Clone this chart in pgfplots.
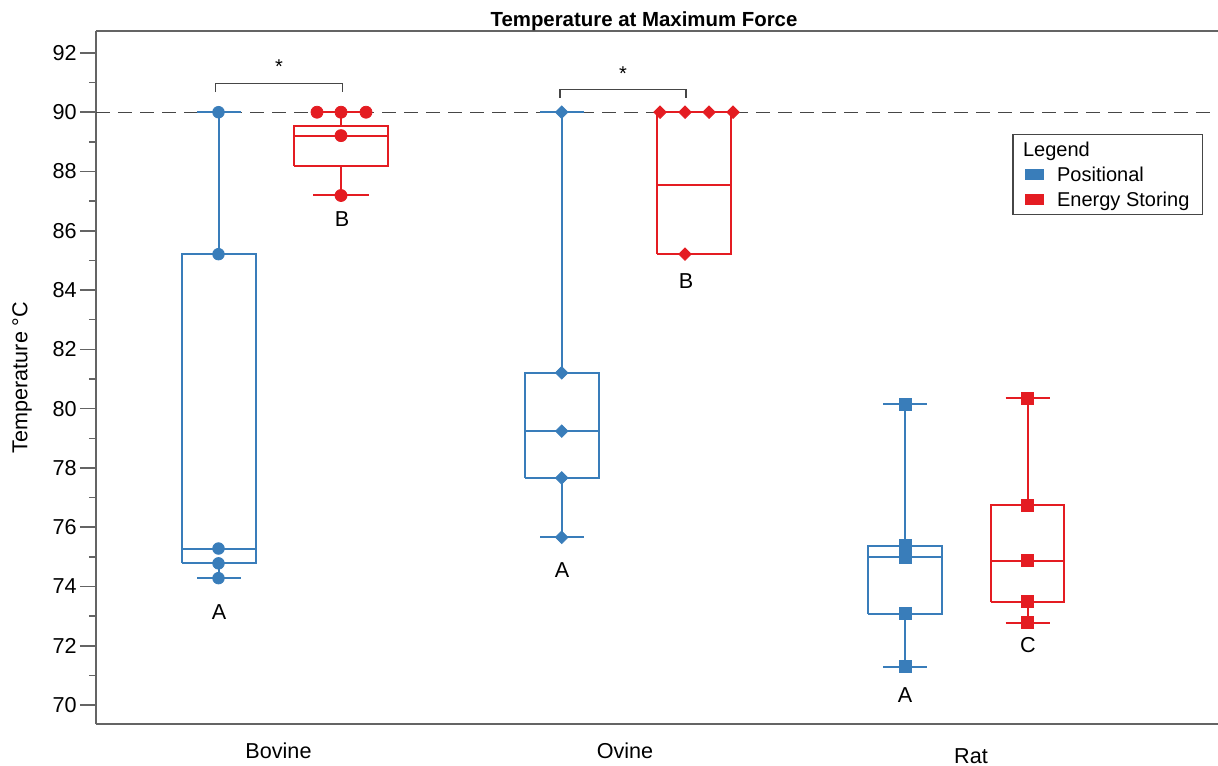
\documentclass[border=0pt]{standalone}
\usepackage{fontspec}
\setmainfont{Liberation Sans}
\usepackage{pgfplots}
\pgfplotsset{compat=1.18}
\definecolor{cblue}{RGB}{57,125,186}
\definecolor{cred}{RGB}{228,28,34}
\definecolor{axgray}{RGB}{100,100,100}
\definecolor{dgray}{RGB}{70,70,70}
\begin{document}
\begin{tikzpicture}
\begin{axis}[
  scale only axis, width=561pt, height=346.5pt,
  xmin=0.96, xmax=12.18, ymin=69.36, ymax=92.74,
  axis x line*=box, axis y line*=left,
  axis line style={axgray, line width=0.75pt},
  xtick={2.785,6.25,9.71},
  xticklabels={Bovine,Ovine,\raisebox{-2.5pt}{Rat}},
  x tick style={draw=none},
  xtick align=inside,
  xticklabel style={anchor=base, yshift=-17pt, font=\fontsize{10.8}{13}\selectfont},
  ytick={70,72,...,92}, minor y tick num=1,
  ytick align=outside,
  major tick length=8pt, minor tick length=3.5pt,
  y tick style={axgray, line width=0.75pt},
  yticklabel style={font=\fontsize{10.8}{13}\selectfont, inner sep=0pt, xshift=-1.5pt},
  /pgf/number format/assume math mode=true,
  clip=false,
  unbounded coords=jump,
  legend cell align=left,
  legend style={at={(rel axis cs:0.98663,0.8514)}, anchor=north east,
    draw=dgray, line width=0.6pt, inner xsep=6pt, inner ysep=1.25pt,
    font=\fontsize{10}{12}\selectfont, row sep=0pt,
    nodes={text height=9.35pt, text depth=2.15pt, inner ysep=0.5pt, inner xsep=0.5pt}},
]
\addlegendimage{empty legend}
\addlegendentry{\hspace*{-17pt}Legend}
\addlegendimage{legend image code/.code={\fill[cblue] (0pt,-2.25pt) rectangle (9pt,2.25pt); \path (15pt,0pt);}}
\addlegendentry{Positional}
\addlegendimage{legend image code/.code={\fill[cred] (0pt,-2.25pt) rectangle (9pt,2.25pt); \path (15pt,0pt);}}
\addlegendentry{Energy Storing}

\coordinate (bl) at (rel axis cs:0,0);
\coordinate (tr) at (rel axis cs:1,1);

% reference line at 90
\addplot[dgray, line width=0.7pt, dash pattern=on 7pt off 4pt] coordinates {(0.96,90) (12.18,90)};

% ---- box plots: box outline, median, whiskers, caps ----
% Bovine Positional
\addplot[cblue, line width=1pt, mark=none] coordinates {
 (1.82,74.78) (2.56,74.78) (2.56,85.21) (1.82,85.21) (1.82,74.78) (2.19,nan)
 (1.82,75.28) (2.56,75.28) (2.19,nan)
 (2.19,85.21) (2.19,90) (2.19,nan) (1.97,90) (2.41,90) (2.19,nan)
 (2.19,74.78) (2.19,74.28) (2.19,nan) (1.97,74.28) (2.41,74.28)};
% Bovine Energy Storing
\addplot[cred, line width=1pt, mark=none] coordinates {
 (2.94,88.20) (3.88,88.20) (3.88,89.55) (2.94,89.55) (2.94,88.20) (3.41,nan)
 (2.94,89.21) (3.88,89.21) (3.41,nan)
 (3.41,89.55) (3.41,90) (3.41,nan) (3.13,90) (3.69,90) (3.41,nan)
 (3.41,88.20) (3.41,87.19) (3.41,nan) (3.13,87.19) (3.69,87.19)};
% Ovine Positional
\addplot[cblue, line width=1pt, mark=none] coordinates {
 (5.25,77.66) (5.99,77.66) (5.99,81.21) (5.25,81.21) (5.25,77.66) (5.62,nan)
 (5.25,79.24) (5.99,79.24) (5.62,nan)
 (5.62,81.21) (5.62,90) (5.62,nan) (5.40,90) (5.84,90) (5.62,nan)
 (5.62,77.66) (5.62,75.66) (5.62,nan) (5.40,75.66) (5.84,75.66)};
% Ovine Energy Storing
\addplot[cred, line width=1pt, mark=none] coordinates {
 (6.57,85.21) (7.31,85.21) (7.31,90) (6.57,90) (6.57,85.21) (6.94,nan)
 (6.57,87.54) (7.31,87.54)};
% Rat Positional
\addplot[cblue, line width=1pt, mark=none] coordinates {
 (8.68,73.08) (9.42,73.08) (9.42,75.38) (8.68,75.38) (8.68,73.08) (9.05,nan)
 (8.68,74.99) (9.42,74.99) (9.05,nan)
 (9.05,75.38) (9.05,80.14) (9.05,nan) (8.83,80.14) (9.27,80.14) (9.05,nan)
 (9.05,73.08) (9.05,71.29) (9.05,nan) (8.83,71.29) (9.27,71.29)};
% Rat Energy Storing
\addplot[cred, line width=1pt, mark=none] coordinates {
 (9.91,73.48) (10.64,73.48) (10.64,76.75) (9.91,76.75) (9.91,73.48) (10.275,nan)
 (9.91,74.87) (10.64,74.87) (10.275,nan)
 (10.275,76.75) (10.275,80.36) (10.275,nan) (10.055,80.36) (10.495,80.36) (10.275,nan)
 (10.275,73.48) (10.275,72.78) (10.275,nan) (10.055,72.78) (10.495,72.78)};

% ---- individual points ----
\addplot[only marks, mark=*, mark size=2.9pt, color=cblue] coordinates {(2.185,90) (2.185,85.21) (2.185,75.28) (2.185,74.78) (2.185,74.28)};
\addplot[only marks, mark=*, mark size=3pt, color=cred] coordinates {(3.17,90) (3.41,90) (3.66,90) (3.41,89.21) (3.41,87.19)};
\addplot[only marks, mark=square*, mark size=2.2pt, mark options={rotate=45}, color=cblue] coordinates {(5.617,90) (5.617,81.21) (5.617,79.24) (5.617,77.66) (5.617,75.66)};
\addplot[only marks, mark=square*, mark size=2.2pt, mark options={rotate=45}, color=cred] coordinates {(6.60,90) (6.85,90) (7.09,90) (7.33,90) (6.85,85.21)};
\addplot[only marks, mark=square*, mark size=3pt, color=cblue] coordinates {(9.05,80.14) (9.05,75.38) (9.05,74.99) (9.05,73.08) (9.05,71.29)};
\addplot[only marks, mark=square*, mark size=3pt, color=cred] coordinates {(10.277,80.36) (10.277,76.75) (10.277,74.87) (10.277,73.48) (10.277,72.78)};

% group letters
\begin{scope}[font=\fontsize{10.8}{13}\selectfont]
\node at (axis cs:2.19,73.12) {A};
\node at (axis cs:3.42,86.38) {B};
\node at (axis cs:5.62,74.56) {A};
\node at (axis cs:6.86,84.30) {B};
\node at (axis cs:9.05,70.34) {A};
\node at (axis cs:10.28,72.01) {C};
\end{scope}

% significance brackets
\draw[dgray, line width=0.6pt] (axis cs:2.157,90.68) -- (axis cs:2.157,90.98) -- (axis cs:3.427,90.98) -- (axis cs:3.427,90.68);
\draw[dgray, line width=0.6pt] (axis cs:5.60,90.49) -- (axis cs:5.60,90.76) -- (axis cs:6.86,90.76) -- (axis cs:6.86,90.49);
\node[font=\fontsize{10}{12}\selectfont] at (axis cs:2.79,91.55) {*};
\node[font=\fontsize{10}{12}\selectfont] at (axis cs:6.23,91.31) {*};

% title and y label
\node[anchor=base, font=\fontsize{10.2}{12}\selectfont\bfseries] at ([yshift=2pt]rel axis cs:0.4884,1) {Temperature at Maximum Force};
\path (rel axis cs:0,0.5) ++(-37pt,0pt) node[rotate=90, font=\fontsize{10.8}{13}\selectfont] {Temperature °C};
\end{axis}
\pgfresetboundingbox
\useasboundingbox ([shift={(-48pt,-20.5pt)}]bl) rectangle ([shift={(0pt,15.5pt)}]tr);
\end{tikzpicture}
\end{document}
